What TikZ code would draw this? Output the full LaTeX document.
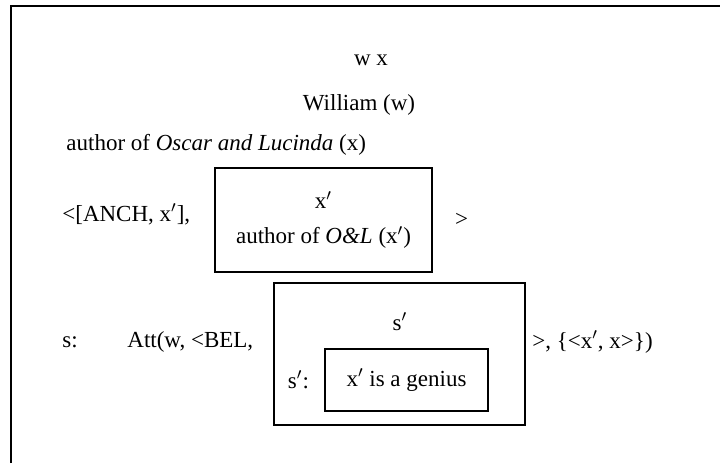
\documentclass[tikz,border=0pt]{standalone}
\usepackage{fontspec}
\setmainfont{Liberation Serif}
\usepackage{tikz}
\usetikzlibrary{positioning}

\begin{document}
\begin{tikzpicture}[x=0.5pt,y=-0.5pt,
  every node/.style={font=\fontsize{11.5}{17.5}\selectfont,inner sep=0pt},
  dbox/.style={draw,line width=0.7pt,align=center},
  lbl/.style={anchor=west}]
  \useasboundingbox (0,0) rectangle (720,463);
  \draw[line width=1pt] (11,463) -- (11,6) -- (720,6);
  \node (wx) at (371,60) {w x};
  \node (will) at (359,105) {William (w)};
  \node[lbl] (auth) at (66,145) {author of \textit{Oscar and Lucinda} (x)};
  \node[dbox,minimum width=108.5pt,minimum height=52pt] (box1) at (323.5,220) {x$'$\\author of \textit{O\&L} (x$'$)};
  \node[lbl] (anch) at (62,214) {<[ANCH, x$'$],};
  \node[right=11pt of box1] (gt) {>};
  \node[dbox,minimum width=125.5pt,minimum height=71pt] (box2) at (399.5,354) {};
  \node (sp) at (400,322) {s$'$};
  \node[dbox,minimum width=81.5pt,minimum height=31pt] (box3) at (406.5,380) {x$'$ is a genius};
  \node[left=7.5pt of box3] (spc) {s$'$:};
  \node[lbl] (s) at (62,342) {s:};
  \node[lbl] (att) at (127,342) {Att(w, <BEL,};
  \node[lbl] (rest) at (532,342) {>, \{<x$'$, x>\})};
\end{tikzpicture}
\end{document}
